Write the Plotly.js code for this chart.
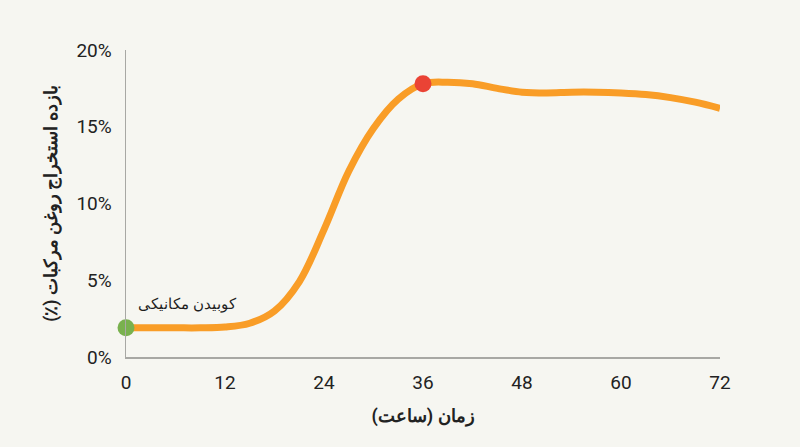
<!DOCTYPE html>
<html>
<head>
<meta charset="utf-8">
<script src="https://cdn.plot.ly/plotly-3.0.1.min.js"></script>
<style>
  html, body { margin: 0; padding: 0; background: #f6f6f1; }
  #chart { width: 800px; height: 447px; }
</style>
</head>
<body>
<div id="chart"></div>
<script>
// Time in hours and extraction yield in percent
const hours = [0, 3, 6, 9, 12, 15, 18, 21, 24, 27, 30, 33, 36, 39, 42, 45, 48, 51, 54, 57, 60, 63, 66, 69, 72];
const yieldPct = [1.9, 1.9, 1.9, 1.9, 1.95, 2.2, 3.0, 4.9, 8.3, 12.1, 14.9, 16.8, 17.8, 17.9, 17.8, 17.5, 17.25, 17.2, 17.25, 17.25, 17.2, 17.1, 16.9, 16.6, 16.2];
const startHour = 0;
const peakHour = 36;
const xTicks = [0, 12, 24, 36, 48, 60, 72];
const yTicks = [0, 5, 10, 15, 20];
const yTickLabels = ["0%", "5%", "10%", "15%", "20%"];
const startLabel = "کوبیدن مکانیکی";
const xTitle = "زمان (ساعت)";
// trailing RLM keeps the "(٪)" at the end of the right-to-left line
const yTitle = "بازده استخراج روغن مرکبات (٪)\u200F";

const valueAt = (h) => yieldPct[hours.indexOf(h)];
const baseFont = "Roboto, 'Noto Sans', sans-serif";

const curve = {
  x: hours,
  y: yieldPct,
  mode: "lines",
  type: "scatter",
  line: { color: "#f99d27", width: 7, shape: "spline", smoothing: 1 },
  hoverinfo: "skip",
};

const startDot = {
  x: [startHour],
  y: [valueAt(startHour)],
  mode: "markers",
  type: "scatter",
  marker: { color: "#79b14e", size: 17 },
  cliponaxis: false,
};

const peakDot = {
  x: [peakHour],
  y: [valueAt(peakHour)],
  mode: "markers",
  type: "scatter",
  marker: { color: "#ea4335", size: 17 },
  cliponaxis: false,
};

const layout = {
  width: 800,
  height: 447,
  margin: { l: 126, r: 80, t: 50, b: 90 },
  paper_bgcolor: "#f6f6f1",
  plot_bgcolor: "#f6f6f1",
  showlegend: false,
  font: { family: baseFont, color: "#222222", size: 19 },
  xaxis: {
    range: [0, 72],
    tickvals: xTicks,
    ticktext: xTicks.map(String),
    tickfont: { size: 19, color: "#222222" },
    showgrid: false,
    zeroline: false,
    showline: true,
    linecolor: "#a8a8a4",
    linewidth: 1.5,
    ticks: "",
    ticklabelstandoff: 8,
    title: { text: xTitle, font: { size: 18, family: baseFont, weight: "bold" }, standoff: 16 },
  },
  yaxis: {
    range: [0, 20],
    tickvals: yTicks,
    ticktext: yTickLabels,
    tickfont: { size: 19, color: "#222222" },
    showgrid: false,
    zeroline: false,
    showline: true,
    linecolor: "#a8a8a4",
    linewidth: 1.5,
    ticks: "",
    ticklabelstandoff: 9,
    title: { text: yTitle, font: { size: 17.5, family: baseFont, weight: "bold" }, standoff: 14 },
  },
  annotations: [
    {
      x: 1.2,
      y: 3.5,
      xref: "x",
      yref: "y",
      text: startLabel,
      showarrow: false,
      xanchor: "left",
      yanchor: "middle",
      font: { size: 15, color: "#1f1f1f", family: "'Noto Sans', Roboto, sans-serif" },
    },
  ],
};

Plotly.newPlot("chart", [curve, startDot, peakDot], layout, { displayModeBar: false, staticPlot: true });
</script>
</body>
</html>
